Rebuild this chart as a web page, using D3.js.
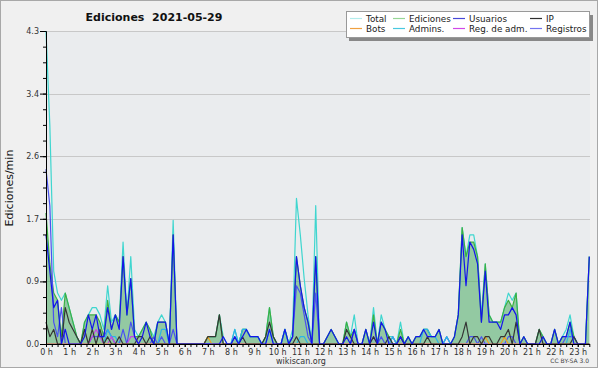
<!DOCTYPE html>
<html>
<head>
<meta charset="utf-8">
<script src="https://cdn.jsdelivr.net/npm/d3@7"></script>
<style>
  body { margin: 0; background: #fff; }
  svg { display: block; font-family: "DejaVu Sans", sans-serif; }
</style>
</head>
<body>
<svg id="chart" width="600" height="370"></svg>
<script>
// values are edits/min, one point every 10 minutes from 0:00 to 23:30
var total = [
  4.3, 3.0, 1.0, 0.7, 0.6, 0.7, 0.5, 0.3, 0.1, 0, 0.3, 0.4,
  0.5, 0.5, 0.4, 0.2, 0.8, 0.3, 0.4, 0.3, 1.4, 0.4, 1.2, 0.2,
  0.1, 0.2, 0.3, 0.2, 0.1, 0.3, 0.4, 0.3, 0, 1.7, 0, 0,
  0, 0, 0, 0, 0, 0, 0.1, 0.1, 0.1, 0.4, 0.1, 0,
  0, 0.2, 0, 0.2, 0.2, 0.1, 0.1, 0.1, 0, 0.1, 0.5, 0.1,
  0, 0, 0.2, 0, 0.2, 2.0, 1.5, 0.9, 0.4, 0, 1.9, 0,
  0, 0.1, 0.2, 0.1, 0, 0, 0.3, 0.1, 0.4, 0, 0, 0.2,
  0, 0.5, 0, 0.4, 0.2, 0.1, 0.1, 0, 0.3, 0, 0.1, 0,
  0.1, 0.1, 0.2, 0.2, 0.1, 0.1, 0.2, 0, 0.1, 0, 0.1, 0.4,
  1.6, 1.2, 1.5, 1.5, 1.2, 0.4, 1.1, 0.4, 0.3, 0.3, 0.3, 0.5,
  0.7, 0.6, 0.7, 0, 0.1, 0, 0, 0, 0.2, 0.1, 0, 0,
  0.2, 0, 0.1, 0.2, 0.4, 0.1, 0, 0, 0, 1.2
];
var ediciones = [
  1.8, 1.1, 0.7, 0.6, 0.1, 0.7, 0.5, 0.3, 0.1, 0, 0.3, 0.4,
  0.4, 0.4, 0.3, 0.1, 0.6, 0.2, 0.4, 0.3, 1.2, 0.4, 0.9, 0.1,
  0.1, 0.2, 0.3, 0.2, 0, 0.3, 0.3, 0.3, 0, 1.5, 0, 0,
  0, 0, 0, 0, 0, 0, 0.1, 0.1, 0.1, 0.4, 0, 0,
  0, 0.1, 0, 0.2, 0.2, 0.1, 0.1, 0.1, 0, 0.1, 0.5, 0.1,
  0, 0, 0.2, 0, 0.1, 1.2, 0.8, 0.5, 0.3, 0, 1.2, 0,
  0, 0.1, 0.2, 0.1, 0, 0, 0.3, 0.1, 0.2, 0, 0, 0.2,
  0, 0.4, 0, 0.3, 0.2, 0.1, 0, 0, 0.2, 0, 0.1, 0,
  0.1, 0.1, 0.2, 0.2, 0.1, 0.1, 0.2, 0, 0, 0, 0.1, 0.4,
  1.6, 1.2, 1.4, 1.4, 1.2, 0.3, 1.1, 0.4, 0.3, 0.3, 0.3, 0.5,
  0.6, 0.5, 0.7, 0, 0.1, 0, 0, 0, 0.2, 0.1, 0, 0,
  0.2, 0, 0.1, 0.1, 0.3, 0.1, 0, 0, 0, 1.2
];
var usuarios = [
  1.5, 1.0, 0.5, 0.6, 0, 0.2, 0, 0, 0, 0, 0.1, 0.4,
  0.2, 0.4, 0.1, 0.1, 0.5, 0.2, 0.4, 0.2, 1.2, 0.4, 0.9, 0.1,
  0, 0.1, 0.3, 0.1, 0, 0.3, 0.3, 0.3, 0, 1.5, 0, 0,
  0, 0, 0, 0, 0, 0, 0, 0, 0, 0, 0.1, 0,
  0, 0.1, 0, 0.1, 0.2, 0.1, 0.1, 0.1, 0, 0, 0.2, 0,
  0, 0, 0.2, 0, 0.1, 1.2, 0.8, 0.5, 0.3, 0, 1.2, 0,
  0, 0.1, 0.2, 0.1, 0, 0, 0.1, 0, 0.2, 0, 0, 0.2,
  0, 0.3, 0, 0.3, 0.2, 0, 0, 0, 0.1, 0, 0.1, 0,
  0.1, 0.1, 0.2, 0.1, 0.1, 0.1, 0.2, 0, 0, 0, 0.1, 0.4,
  1.5, 0.8, 1.4, 1.3, 1.1, 0.3, 1.0, 0.3, 0.3, 0.3, 0.2, 0.4,
  0.4, 0.5, 0.4, 0, 0.1, 0, 0, 0, 0, 0.1, 0, 0,
  0.2, 0, 0.1, 0.1, 0.3, 0, 0, 0, 0, 1.2
];
var ip = [
  0.3, 0.1, 0.2, 0, 0, 0.5, 0.3, 0.2, 0.1, 0, 0.2, 0,
  0.2, 0, 0.2, 0, 0.1, 0, 0, 0.1, 0, 0, 0, 0,
  0.1, 0.1, 0, 0.1, 0, 0, 0, 0, 0, 0, 0, 0,
  0, 0, 0, 0, 0, 0, 0.1, 0.1, 0.1, 0.4, 0, 0,
  0, 0, 0, 0.1, 0, 0, 0, 0, 0, 0.1, 0.3, 0.1,
  0, 0, 0, 0, 0, 0.1, 0, 0, 0, 0, 0, 0,
  0, 0, 0, 0, 0, 0, 0.2, 0.1, 0, 0, 0, 0,
  0, 0.1, 0, 0, 0, 0.1, 0, 0, 0.1, 0, 0, 0,
  0, 0, 0, 0.1, 0, 0, 0, 0, 0, 0, 0, 0,
  0.1, 0.3, 0, 0.1, 0.1, 0, 0.1, 0.1, 0, 0, 0.1, 0.1,
  0.2, 0, 0.3, 0, 0, 0, 0, 0, 0.2, 0, 0, 0,
  0, 0, 0, 0, 0, 0.1, 0, 0, 0, 0
];
var bots = [
  0, 0, 0, 0, 0, 0, 0, 0, 0, 0, 0, 0,
  0, 0, 0, 0, 0, 0, 0, 0, 0, 0, 0, 0,
  0, 0, 0, 0, 0, 0, 0, 0, 0, 0, 0, 0,
  0, 0, 0, 0, 0, 0, 0.1, 0, 0, 0, 0, 0,
  0, 0, 0, 0, 0, 0, 0, 0, 0, 0, 0, 0,
  0, 0, 0, 0, 0, 0, 0, 0, 0, 0, 0, 0,
  0, 0, 0, 0, 0, 0, 0, 0, 0, 0, 0, 0,
  0, 0, 0, 0, 0, 0, 0, 0, 0, 0, 0, 0,
  0, 0, 0, 0, 0, 0, 0, 0, 0, 0, 0, 0,
  0, 0, 0, 0, 0, 0, 0.1, 0, 0, 0, 0, 0.1,
  0, 0, 0, 0, 0, 0, 0, 0, 0, 0, 0, 0,
  0, 0, 0, 0, 0, 0, 0, 0, 0, 0
];
var admins = [
  0, 0, 0, 0, 0, 0, 0, 0, 0, 0, 0, 0,
  0, 0, 0, 0, 0.2, 0.1, 0.1, 0, 0, 0, 0, 0,
  0, 0, 0, 0, 0, 0, 0.2, 0.2, 0, 0, 0, 0,
  0, 0, 0, 0, 0, 0, 0, 0, 0, 0, 0, 0,
  0, 0.2, 0, 0.2, 0.2, 0.1, 0.1, 0.1, 0, 0, 0.2, 0,
  0, 0, 0.2, 0, 0, 0, 0.1, 0.1, 0, 0, 0, 0,
  0, 0, 0, 0, 0, 0, 0, 0, 0, 0, 0, 0,
  0, 0, 0, 0, 0, 0, 0.1, 0, 0, 0, 0, 0,
  0, 0, 0.2, 0.2, 0.1, 0.1, 0, 0, 0.1, 0, 0, 0,
  0, 0, 0, 0, 0, 0, 0, 0, 0, 0, 0, 0,
  0, 0, 0, 0, 0, 0, 0, 0, 0, 0, 0, 0,
  0, 0, 0, 0, 0.2, 0, 0, 0, 0, 0
];
var regAdm = [
  0, 0, 0, 0, 0, 0, 0, 0, 0, 0, 0, 0,
  0.1, 0.2, 0.1, 0, 0, 0.1, 0, 0, 0, 0, 0.1, 0.1,
  0, 0, 0, 0, 0, 0, 0, 0, 0, 0, 0, 0,
  0, 0, 0, 0, 0, 0, 0, 0, 0, 0, 0, 0,
  0, 0, 0, 0, 0, 0, 0, 0, 0, 0, 0, 0,
  0, 0, 0, 0, 0, 0, 0, 0, 0, 0, 0, 0,
  0, 0, 0, 0, 0, 0, 0, 0, 0, 0, 0, 0,
  0, 0, 0, 0, 0, 0, 0, 0, 0, 0, 0, 0,
  0, 0, 0, 0, 0, 0, 0, 0, 0, 0, 0, 0,
  0, 0, 0, 0, 0, 0, 0, 0, 0, 0, 0, 0,
  0, 0, 0, 0, 0, 0, 0, 0, 0, 0, 0, 0,
  0, 0, 0, 0, 0, 0, 0, 0, 0, 0
];
var registros = [
  2.4, 1.9, 0.3, 0.1, 0.5, 0, 0, 0, 0, 0, 0, 0,
  0.1, 0.1, 0.1, 0.1, 0.2, 0.1, 0, 0, 0.2, 0, 0.3, 0.1,
  0, 0, 0, 0, 0.1, 0, 0.1, 0, 0, 0.2, 0, 0,
  0, 0, 0, 0, 0, 0, 0, 0, 0, 0, 0, 0,
  0, 0.1, 0, 0, 0, 0, 0, 0, 0, 0, 0, 0,
  0, 0, 0, 0, 0.1, 0.8, 0.7, 0.4, 0.1, 0, 0.7, 0,
  0, 0, 0, 0, 0, 0, 0, 0, 0.2, 0, 0, 0,
  0, 0.1, 0, 0.1, 0, 0, 0.1, 0, 0.1, 0, 0, 0,
  0, 0, 0, 0, 0, 0, 0, 0, 0.1, 0, 0, 0,
  0, 0, 0.1, 0.1, 0, 0.1, 0, 0, 0, 0, 0, 0,
  0.1, 0.1, 0, 0, 0, 0, 0, 0, 0, 0, 0, 0,
  0, 0, 0, 0.1, 0.1, 0.1, 0, 0, 0, 0
];

var yMax = 4.3;
var yTickLabels = ["0.0", "0.9", "1.7", "2.6", "3.4", "4.3"];
var hourLabels = d3.range(24).map(function(h) { return h + " h"; });
var stepMinutes = 10;

var svg = d3.select("#chart");
var plotLeft = 46, plotRight = 590, plotTop = 31, plotBottom = 344;

// frame
svg.append("rect").attr("x", 0.5).attr("y", 0.5).attr("width", 597).attr("height", 367)
  .attr("fill", "#f0f0f0").attr("stroke", "#a8a8a8");
svg.append("rect").attr("x", plotLeft).attr("y", plotTop)
  .attr("width", plotRight - plotLeft).attr("height", plotBottom - plotTop)
  .attr("fill", "#eaecee");

var x = d3.scaleLinear().domain([0, (total.length - 1) * stepMinutes]).range([plotLeft, 589.3]);
var y = d3.scaleLinear().domain([0, yMax]).range([plotBottom, plotTop]);

var majorY = d3.range(6).map(function(k) { return k * yMax / 5; });
var minorY = d3.range(21).map(function(k) { return k * yMax / 20; });

// grid
svg.append("g").selectAll("line").data(majorY.slice(1)).enter().append("line")
  .attr("x1", plotLeft).attr("x2", plotRight)
  .attr("y1", function(d) { return Math.round(y(d)) + 0.5; })
  .attr("y2", function(d) { return Math.round(y(d)) + 0.5; })
  .attr("stroke", "#c8c8c8").attr("stroke-width", 1);

// series
var line = function(data) {
  return d3.line()
    .x(function(d, i) { return x(i * stepMinutes); })
    .y(function(d) { return y(d); })(data);
};

var area = d3.area()
  .x(function(d, i) { return x(i * stepMinutes); })
  .y0(plotBottom)
  .y1(function(d) { return y(d); });

var g = svg.append("g");
g.append("path").attr("d", area(ediciones)).attr("fill", "rgba(60,165,85,0.5)").attr("stroke", "none");

var lines = [
  { data: total, color: "#3fd6cf" },
  { data: ediciones, color: "#3cb043" },
  { data: registros, color: "#4a52f0" },
  { data: admins, color: "#2cb4e6" },
  { data: regAdm, color: "#c444e6" },
  { data: bots, color: "#f0a020" },
  { data: ip, color: "#353535" },
  { data: usuarios, color: "#1414ec" }
];
lines.forEach(function(s) {
  g.append("path").attr("d", line(s.data))
    .attr("fill", "none").attr("stroke", s.color).attr("stroke-width", 1.2)
    .attr("stroke-linejoin", "round");
});

// axes
svg.append("g").attr("transform", "translate(" + plotLeft + ",0)")
  .call(d3.axisLeft(y).tickValues(majorY).tickSize(6).tickSizeOuter(0).tickPadding(1)
    .tickFormat(function(d, i) { return yTickLabels[i]; }));
svg.append("g").attr("transform", "translate(" + plotLeft + ",0)")
  .call(d3.axisLeft(y).tickValues(minorY).tickSize(3).tickSizeOuter(0).tickFormat(""));

var quarters = d3.range(0, (total.length - 1) * stepMinutes + 1, 15);
svg.append("g").attr("transform", "translate(0," + plotBottom + ")")
  .call(d3.axisBottom(x).tickValues(quarters).tickSize(3).tickSizeOuter(0).tickFormat(""));
svg.append("g").attr("transform", "translate(0," + plotBottom + ")")
  .call(d3.axisBottom(x).tickValues(d3.range(24).map(function(h) { return h * 60; }))
    .tickSize(3).tickSizeOuter(0).tickPadding(2)
    .tickFormat(function(d, i) { return hourLabels[i]; }));

svg.selectAll(".domain").attr("stroke", "#000");
svg.selectAll(".tick line").attr("stroke", "#000");
svg.selectAll(".tick text").attr("fill", "#333").style("font-size", "8px")
  .style("font-family", "'DejaVu Sans', sans-serif");

// texts
svg.append("text").attr("x", 154).attr("y", 21).attr("text-anchor", "middle")
  .style("font-weight", "bold").style("font-size", "11px").style("white-space", "pre")
  .attr("fill", "#111").text("Ediciones  2021-05-29");

svg.append("text").attr("transform", "translate(13,188) rotate(-90)").attr("text-anchor", "middle")
  .style("font-size", "11px").attr("fill", "#111").text("Ediciones/min");

svg.append("text").attr("x", 301).attr("y", 364).attr("text-anchor", "middle")
  .style("font-size", "8px").attr("fill", "#333").text("wikiscan.org");

svg.append("text").attr("x", 589).attr("y", 363).attr("text-anchor", "end")
  .style("font-size", "6px").attr("fill", "#444").text("CC BY-SA 3.0");

// legend
var legendNames = ["Total", "Ediciones", "Usuarios", "IP", "Bots", "Admins.", "Reg. de adm.", "Registros"];
var legendColors = ["#b2ecec", "#96d696", "#4848d8", "#303030", "#f0a040", "#48c8e0", "#d048e8", "#7474f0"];
var legendCols = [350, 393, 453, 530];

svg.append("rect").attr("x", 349).attr("y", 15).attr("width", 244).attr("height", 26).attr("fill", "#888");
svg.append("rect").attr("x", 346.5).attr("y", 11.5).attr("width", 243).attr("height", 26)
  .attr("fill", "#fff").attr("stroke", "#999");

var leg = svg.append("g").selectAll("g").data(legendNames).enter().append("g")
  .attr("transform", function(d, i) {
    return "translate(" + legendCols[i % 4] + "," + (i < 4 ? 18.5 : 28.5) + ")";
  });
leg.append("line").attr("x1", 0).attr("x2", 12).attr("y1", 0).attr("y2", 0)
  .attr("stroke", function(d, i) { return legendColors[i]; }).attr("stroke-width", 1.2);
leg.append("text").attr("x", 16).attr("y", 3.4).style("font-size", "8.8px").attr("fill", "#222")
  .text(function(d) { return d; });
</script>
</body>
</html>
